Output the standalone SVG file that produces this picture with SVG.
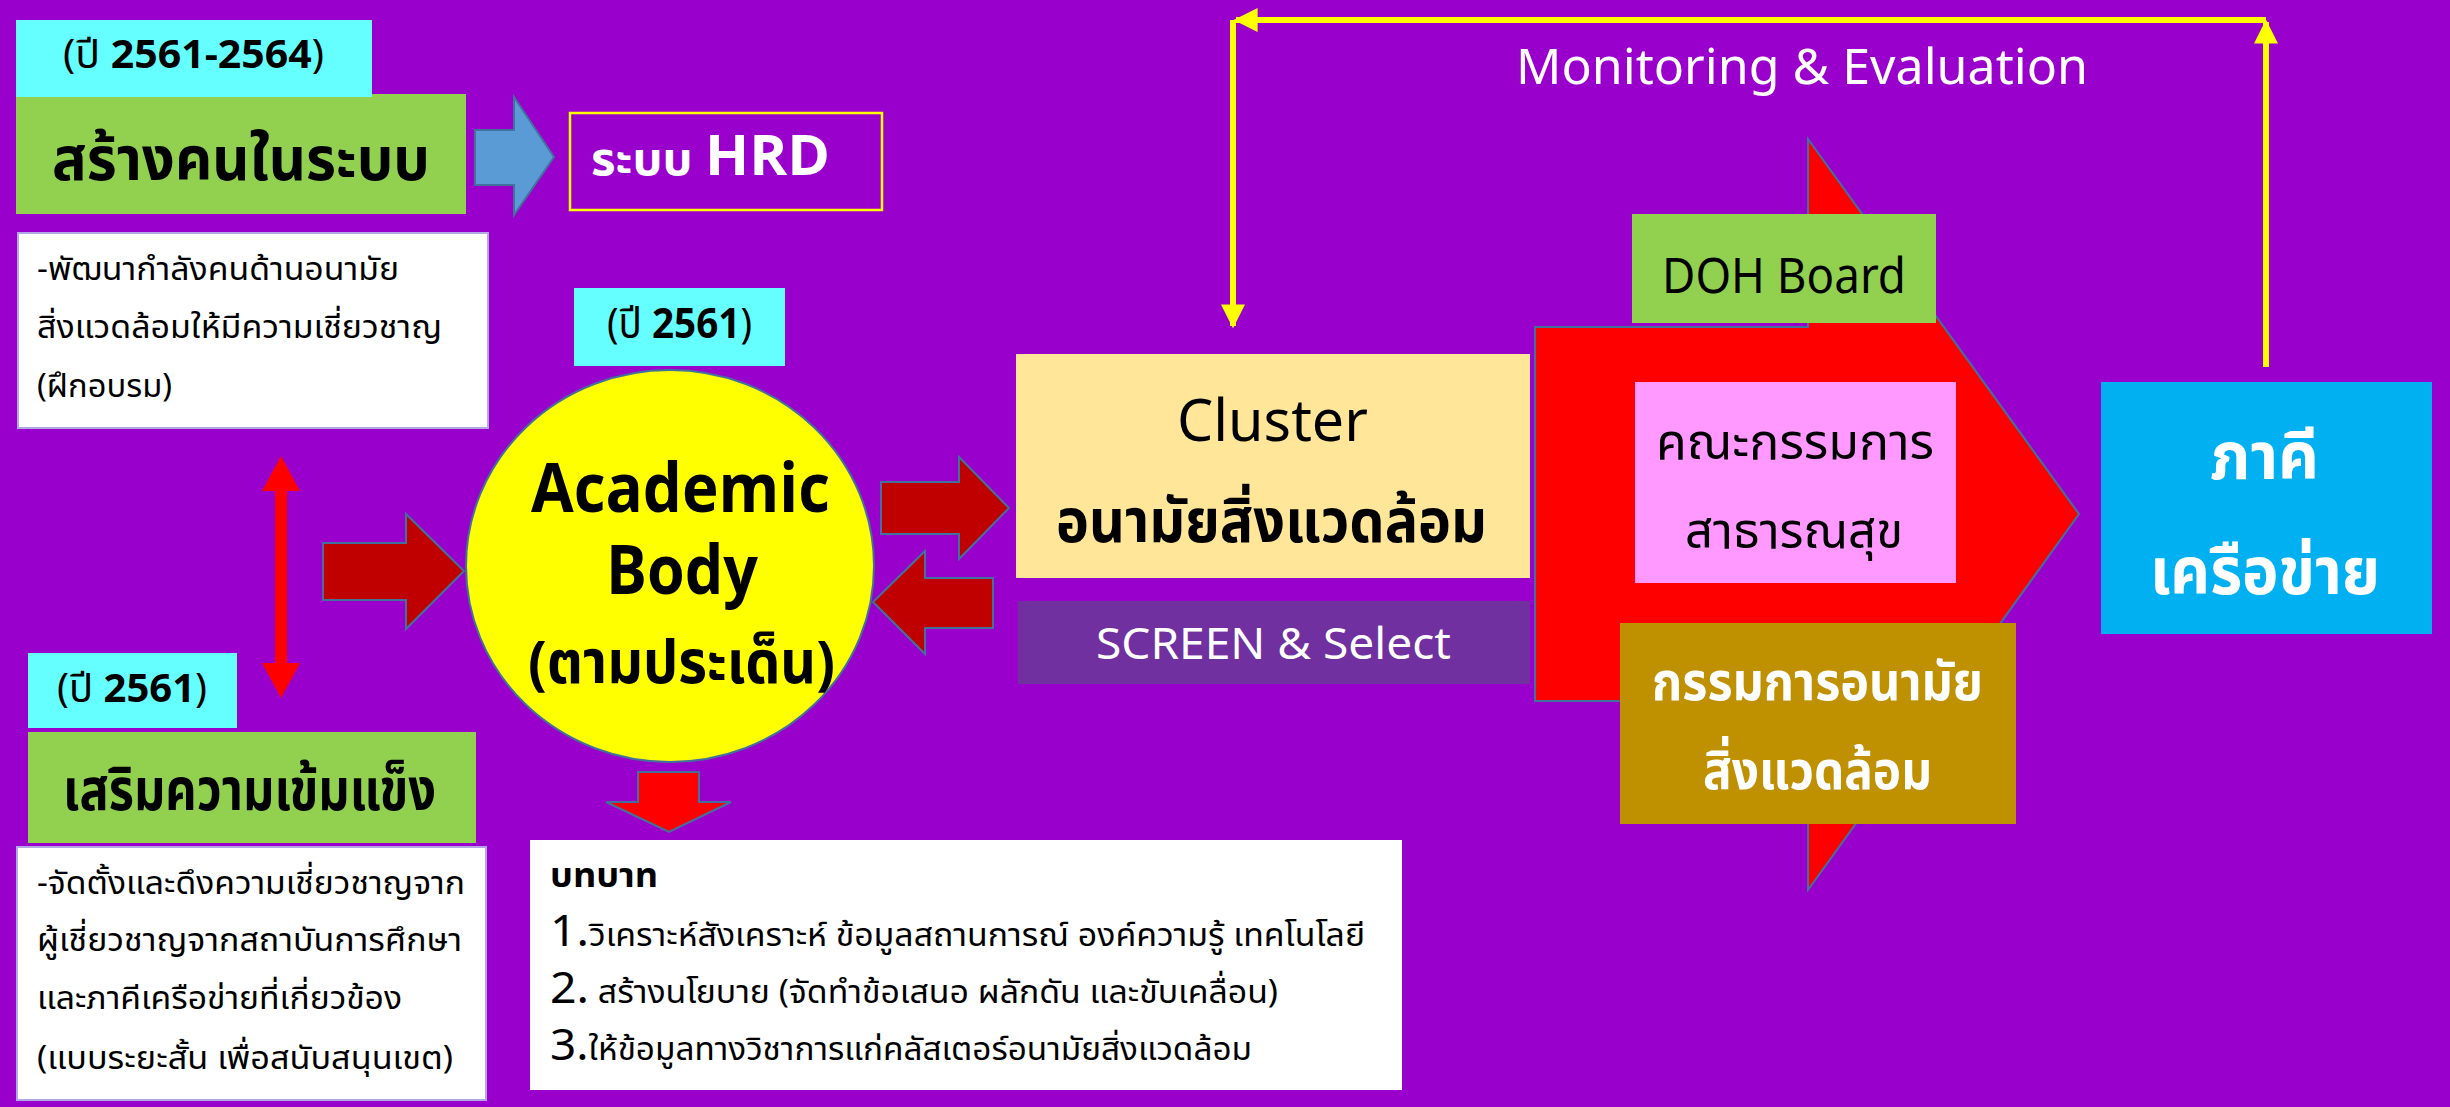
<svg xmlns="http://www.w3.org/2000/svg" width="2450" height="1107" viewBox="0 0 2450 1107">
<style>
.th{font-family:"Noto Sans Thai","Noto Sans","Liberation Sans",sans-serif;}
.b{font-weight:bold;}
.w{fill:#FFFFFF;}
.k{fill:#000000;}
.arw{stroke:#41719C;stroke-width:2;}
</style>
<defs>
<marker id="ah" viewBox="0 0 10 10" refX="9" refY="5" markerWidth="24" markerHeight="24" markerUnits="userSpaceOnUse" orient="auto">
<path d="M0,0 L10,5 L0,10 z" fill="#FFFF00"/>
</marker>
</defs>
<rect x="0" y="0" width="2450" height="1107" fill="#9900CC"/>

<g id="connectors">
<path d="M2266,367 V22" stroke="#FFFF00" stroke-width="6" fill="none" marker-end="url(#ah)"/>
<path d="M2266,20 H1236" stroke="#FFFF00" stroke-width="6" fill="none" marker-end="url(#ah)"/>
<path d="M1233,20 V326" stroke="#FFFF00" stroke-width="6" fill="none" marker-end="url(#ah)"/>
<polygon points="475,130 514,130 514,97 554,157 514,215 514,185 475,185" fill="#5B9BD5" class="arw"/>
<polygon points="281,456 300,491 287,491 287,663 300,663 281,698 262,663 275,663 275,491 262,491" fill="#FF0000"/>
<polygon points="323,543 406,543 406,514 464,571 406,629 406,600 323,600" fill="#C00000" class="arw"/>
<polygon points="881,482 959,482 959,457 1009,508 959,559 959,534 881,534" fill="#C00000" class="arw"/>
<polygon points="993,578 925,578 925,551 873,602 925,654 925,628 993,628" fill="#C00000" class="arw"/>
<polygon points="638,772 699,772 699,802 731,802 669,832 606,802 638,802" fill="#FF0000" class="arw"/>
<text x="1516" y="84" class="th w" font-size="50" textLength="572" lengthAdjust="spacingAndGlyphs">Monitoring &amp; Evaluation</text>
</g>

<g id="build">
<rect x="16" y="94" width="450" height="120" fill="#92D050"/>
<text x="52" y="180" class="th b k" font-size="60" textLength="378" lengthAdjust="spacingAndGlyphs">สร้างคนในระบบ</text>
</g>
<g id="year1">
<rect x="16" y="20" width="356" height="77" fill="#66FFFF"/>
<text x="63" y="68" class="th k" font-size="40" textLength="261" lengthAdjust="spacingAndGlyphs">(ปี <tspan class="b">2561-2564</tspan>)</text>
</g>
<g id="hrd">
<rect x="570" y="113" width="312" height="97" fill="none" stroke="#FFFF00" stroke-width="2.5"/>
<text x="591" y="175" class="th b w" font-size="46" textLength="239" lengthAdjust="spacingAndGlyphs">ระบบ <tspan font-size="56">HRD</tspan></text>
</g>
<g id="desc1">
<rect x="18" y="233" width="470" height="195" fill="#FFFFFF" stroke="#B4A7E6" stroke-width="2"/>
<text x="37" y="280" class="th k" font-size="32" textLength="362" lengthAdjust="spacingAndGlyphs">-พัฒนากำลังคนด้านอนามัย</text>
<text x="37" y="338" class="th k" font-size="32" textLength="405" lengthAdjust="spacingAndGlyphs">สิ่งแวดล้อมให้มีความเชี่ยวชาญ</text>
<text x="37" y="397" class="th k" font-size="32" textLength="135" lengthAdjust="spacingAndGlyphs">(ฝึกอบรม)</text>
</g>
<g id="year2">
<rect x="574" y="288" width="211" height="78" fill="#66FFFF"/>
<text x="607" y="338" class="th k" font-size="42" textLength="145" lengthAdjust="spacingAndGlyphs">(ปี <tspan class="b">2561</tspan>)</text>
</g>
<g id="academic">
<ellipse cx="670" cy="566" rx="204" ry="196" fill="#FFFF00" stroke="#41719C" stroke-width="2"/>
<text x="531" y="512" class="th b k" font-size="68" textLength="299" lengthAdjust="spacingAndGlyphs">Academic</text>
<text x="606" y="594" class="th b k" font-size="68" textLength="152" lengthAdjust="spacingAndGlyphs">Body</text>
<text x="528" y="683" class="th b k" font-size="60" textLength="307" lengthAdjust="spacingAndGlyphs">(ตามประเด็น)</text>
</g>
<g id="year3">
<rect x="28" y="653" width="209" height="75" fill="#66FFFF"/>
<text x="57" y="702" class="th k" font-size="40" textLength="150" lengthAdjust="spacingAndGlyphs">(ปี <tspan class="b">2561</tspan>)</text>
</g>
<g id="strengthen">
<rect x="28" y="732" width="448" height="111" fill="#92D050"/>
<text x="63" y="810" class="th b k" font-size="58" textLength="373" lengthAdjust="spacingAndGlyphs">เสริมความเข้มแข็ง</text>
</g>
<g id="desc2">
<rect x="17" y="847" width="469" height="253" fill="#FFFFFF" stroke="#B4A7E6" stroke-width="2"/>
<text x="37" y="894" class="th k" font-size="32" textLength="428" lengthAdjust="spacingAndGlyphs">-จัดตั้งและดึงความเชี่ยวชาญจาก</text>
<text x="37" y="951" class="th k" font-size="32" textLength="425" lengthAdjust="spacingAndGlyphs">ผู้เชี่ยวชาญจากสถาบันการศึกษา</text>
<text x="37" y="1009" class="th k" font-size="32" textLength="365" lengthAdjust="spacingAndGlyphs">และภาคีเครือข่ายที่เกี่ยวข้อง</text>
<text x="37" y="1069" class="th k" font-size="32" textLength="416" lengthAdjust="spacingAndGlyphs">(แบบระยะสั้น เพื่อสนับสนุนเขต)</text>
</g>
<g id="roles">
<rect x="530" y="840" width="872" height="250" fill="#FFFFFF"/>
<text x="550" y="887" class="th b k" font-size="34" textLength="108" lengthAdjust="spacingAndGlyphs">บทบาท</text>
<text x="550" y="946" class="th k" font-size="32" textLength="815" lengthAdjust="spacingAndGlyphs"><tspan font-size="44">1.</tspan>วิเคราะห์สังเคราะห์ ข้อมูลสถานการณ์ องค์ความรู้ เทคโนโลยี</text>
<text x="550" y="1003" class="th k" font-size="32" textLength="728" lengthAdjust="spacingAndGlyphs"><tspan font-size="44">2.</tspan> สร้างนโยบาย (จัดทำข้อเสนอ ผลักดัน และขับเคลื่อน)</text>
<text x="550" y="1060" class="th k" font-size="32" textLength="702" lengthAdjust="spacingAndGlyphs"><tspan font-size="44">3.</tspan>ให้ข้อมูลทางวิชาการแก่คลัสเตอร์อนามัยสิ่งแวดล้อม</text>
</g>
<g id="cluster">
<rect x="1016" y="354" width="514" height="224" fill="#FFE699"/>
<text x="1177" y="441" class="th k" font-size="58" textLength="191" lengthAdjust="spacingAndGlyphs">Cluster</text>
<text x="1056" y="542" class="th b k" font-size="60" textLength="431" lengthAdjust="spacingAndGlyphs">อนามัยสิ่งแวดล้อม</text>
</g>
<g id="screen">
<rect x="1018" y="601" width="512" height="83" fill="#7030A0"/>
<text x="1096" y="659" class="th w" font-size="44" textLength="355" lengthAdjust="spacingAndGlyphs">SCREEN &amp; Select</text>
</g>
<g id="bigarrow">
<polygon points="1535,327 1808,327 1808,139 2079,514 1808,890 1808,701 1535,701" fill="#FF0000" class="arw"/>
</g>
<g id="doh">
<rect x="1632" y="214" width="304" height="109" fill="#92D050"/>
<text x="1662" y="293" class="th k" font-size="50" textLength="244" lengthAdjust="spacingAndGlyphs">DOH Board</text>
</g>
<g id="publichealth">
<rect x="1635" y="382" width="321" height="201" fill="#FF99FF"/>
<text x="1656" y="459" class="th k" font-size="50" textLength="278" lengthAdjust="spacingAndGlyphs">คณะกรรมการ</text>
<text x="1685" y="548" class="th k" font-size="50" textLength="218" lengthAdjust="spacingAndGlyphs">สาธารณสุข</text>
</g>
<g id="envcommittee">
<rect x="1620" y="623" width="396" height="201" fill="#BF9000"/>
<text x="1652" y="700" class="th b w" font-size="54" textLength="331" lengthAdjust="spacingAndGlyphs">กรรมการอนามัย</text>
<text x="1703" y="789" class="th b w" font-size="54" textLength="229" lengthAdjust="spacingAndGlyphs">สิ่งแวดล้อม</text>
</g>
<g id="network">
<rect x="2101" y="382" width="331" height="252" fill="#00B0F0"/>
<text x="2210" y="479" class="th b w" font-size="66" textLength="109" lengthAdjust="spacingAndGlyphs">ภาคี</text>
<text x="2150" y="594" class="th b w" font-size="66" textLength="230" lengthAdjust="spacingAndGlyphs">เครือข่าย</text>
</g>
</svg>
